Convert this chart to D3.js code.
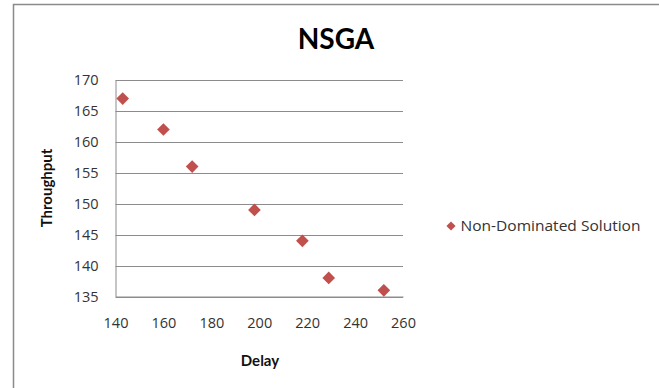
<!DOCTYPE html>
<html>
<head>
<meta charset="utf-8">
<script src="https://cdn.jsdelivr.net/npm/d3@7"></script>
<style>
  body { margin: 0; background: #fff; }
  text { font-family: Lato, "Open Sans", sans-serif; }
</style>
</head>
<body>
<svg id="display" width="659" height="388"></svg>
<script>
'use strict';
//data
var delay = [143, 160, 172, 198, 218, 229, 252];
var throughput = [167, 162, 156, 149, 144, 138, 136];
var xTicks = [140, 160, 180, 200, 220, 240, 260];
var yTicks = [135, 140, 145, 150, 155, 160, 165, 170];
var seriesName = 'Non-Dominated Solution';

var MARGINS = { top: 80, left: 115.5, right: 403, bottom: 296.5 };
var RED = '#c0504d';
var GRID = '#8c8c8c';
var LABEL_FONT = '"Open Sans", sans-serif';

var svg = d3.select('#display');

var x = d3.scaleLinear().domain([140, 260]).range([MARGINS.left, MARGINS.right]);
var y = d3.scaleLinear().domain([135, 170]).range([MARGINS.bottom, MARGINS.top]);

//outer chart frame (right and bottom edges fall outside the picture)
svg.append('rect')
  .attr('x', 13.5).attr('y', 4.5)
  .attr('width', 700).attr('height', 400)
  .attr('fill', 'none')
  .attr('stroke', '#8a8a8a')
  .attr('stroke-width', 1.5);

//title
svg.append('text')
  .attr('x', 336).attr('y', 49)
  .attr('text-anchor', 'middle')
  .attr('font-size', 28)
  .attr('font-weight', 'bold')
  .attr('fill', '#000')
  .text('NSGA');

//gridlines
svg.append('g')
  .selectAll('line')
  .data(yTicks)
  .enter()
  .append('line')
  .attr('x1', MARGINS.left)
  .attr('x2', MARGINS.right)
  .attr('y1', function(d) { return Math.round(y(d)) + 0.5; })
  .attr('y2', function(d) { return Math.round(y(d)) + 0.5; })
  .attr('stroke', GRID)
  .attr('stroke-width', 1);

//y axis
var yAxis = d3.axisLeft(y).tickValues(yTicks).tickSize(0).tickPadding(17);
svg.append('g')
  .attr('transform', 'translate(' + MARGINS.left + ',0)')
  .call(yAxis)
  .call(function(g) {
    g.select('.domain').attr('stroke', GRID);
    g.selectAll('text').attr('font-size', 14.5).attr('fill', '#333')
      .style('font-family', LABEL_FONT);
  });

//x axis
var xAxis = d3.axisBottom(x).tickValues(xTicks).tickSize(0).tickPadding(21);
svg.append('g')
  .attr('transform', 'translate(0,' + MARGINS.bottom + ')')
  .call(xAxis)
  .call(function(g) {
    g.select('.domain').attr('stroke', GRID);
    g.selectAll('text').attr('font-size', 14.5).attr('fill', '#333')
      .style('font-family', LABEL_FONT);
  });

//axis titles
svg.append('text')
  .attr('transform', 'translate(52,188) rotate(-90)')
  .attr('text-anchor', 'middle')
  .attr('font-size', 15)
  .attr('font-weight', 'bold')
  .attr('fill', '#111')
  .text('Throughput');

svg.append('text')
  .attr('x', 260).attr('y', 366)
  .attr('text-anchor', 'middle')
  .attr('font-size', 15)
  .attr('font-weight', 'bold')
  .attr('fill', '#111')
  .text('Delay');

//points
var diamond = d3.symbol().type(d3.symbolSquare).size(80);
svg.append('g')
  .selectAll('path')
  .data(delay)
  .enter()
  .append('path')
  .attr('d', diamond())
  .attr('transform', function(d, i) {
    return 'translate(' + x(d) + ',' + y(throughput[i]) + ') rotate(45)';
  })
  .attr('fill', RED);

//legend
svg.append('path')
  .attr('d', d3.symbol().type(d3.symbolSquare).size(42)())
  .attr('transform', 'translate(451,226) rotate(45)')
  .attr('fill', RED);

svg.append('text')
  .attr('x', 460.5).attr('y', 231)
  .attr('font-size', 14.5)
  .attr('fill', '#333')
  .style('font-family', LABEL_FONT)
  .attr('textLength', 180)
  .attr('lengthAdjust', 'spacingAndGlyphs')
  .text(seriesName);
</script>
</body>
</html>
